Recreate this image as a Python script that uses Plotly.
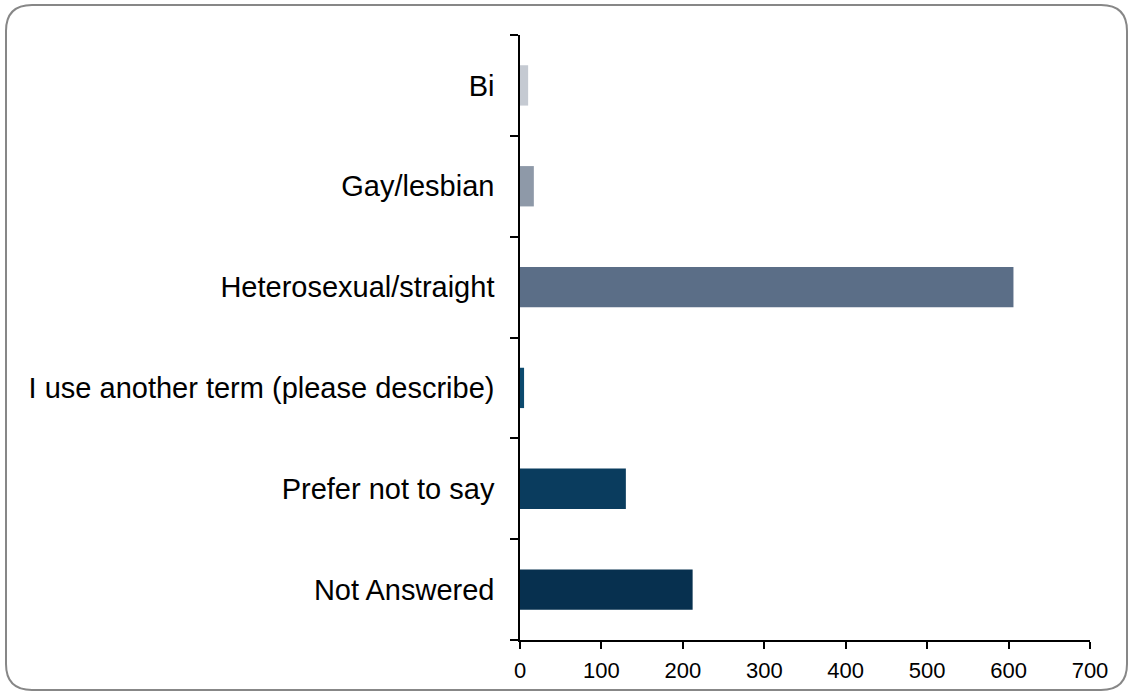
import plotly.graph_objects as go

categories = ["Bi", "Gay/lesbian", "Heterosexual/straight",
              "I use another term (please describe)", "Prefer not to say", "Not Answered"]
values = [10, 17, 606, 5, 130, 212]
colors = ["#C5CAD2", "#8E99A8", "#5B6E87", "#0C4A6E", "#0A3C5E", "#07304F"]
x_ticks = [0, 100, 200, 300, 400, 500, 600, 700]

W, H = 1133, 696
L, R, T, B = 520, W - 1090, 35, H - 640

fig = go.Figure(go.Bar(
    y=categories, x=values, orientation="h",
    marker=dict(color=colors, line=dict(width=0)),
    width=0.4, hoverinfo="x+y",
))

fig.update_layout(
    width=W, height=H,
    margin=dict(l=L, r=R, t=T, b=B),
    paper_bgcolor="white", plot_bgcolor="white",
    font=dict(family="Arial, Liberation Sans, sans-serif", color="black"),
    showlegend=False,
    xaxis=dict(range=[0, 700], tickvals=x_ticks, showgrid=False, zeroline=False,
               showline=True, linecolor="black", linewidth=1.5,
               ticks="outside", ticklen=7, tickwidth=1.5, tickcolor="black",
               tickfont=dict(size=22), ticklabelstandoff=3, fixedrange=True),
    yaxis=dict(categoryorder="array", categoryarray=categories[::-1],
               range=[-0.5, 5.5], tickson="boundaries", showgrid=False,
               showline=True, linecolor="black", linewidth=1.5,
               ticks="outside", ticklen=8, tickwidth=1.5, tickcolor="black",
               tickfont=dict(size=29), ticklabelstandoff=18, fixedrange=True),
)

# rounded border around the whole chart (pixel -> paper coordinates)
def px(x):
    return (x - L) / (W - L - R)

def py(y):
    return (H - B - y) / (H - T - B)

x0, x1, y0, y1, r = 6, 1127, 5, 690, 26
path = (f"M {px(x0 + r)} {py(y0)} L {px(x1 - r)} {py(y0)} "
        f"Q {px(x1)} {py(y0)} {px(x1)} {py(y0 + r)} "
        f"L {px(x1)} {py(y1 - r)} Q {px(x1)} {py(y1)} {px(x1 - r)} {py(y1)} "
        f"L {px(x0 + r)} {py(y1)} Q {px(x0)} {py(y1)} {px(x0)} {py(y1 - r)} "
        f"L {px(x0)} {py(y0 + r)} Q {px(x0)} {py(y0)} {px(x0 + r)} {py(y0)} Z")
fig.add_shape(type="path", xref="paper", yref="paper", path=path,
              line=dict(color="#878787", width=2), layer="below")

fig.write_html("out.html", config={"displayModeBar": False},
               post_script="document.body.style.margin='0';document.body.style.overflow='hidden';")
